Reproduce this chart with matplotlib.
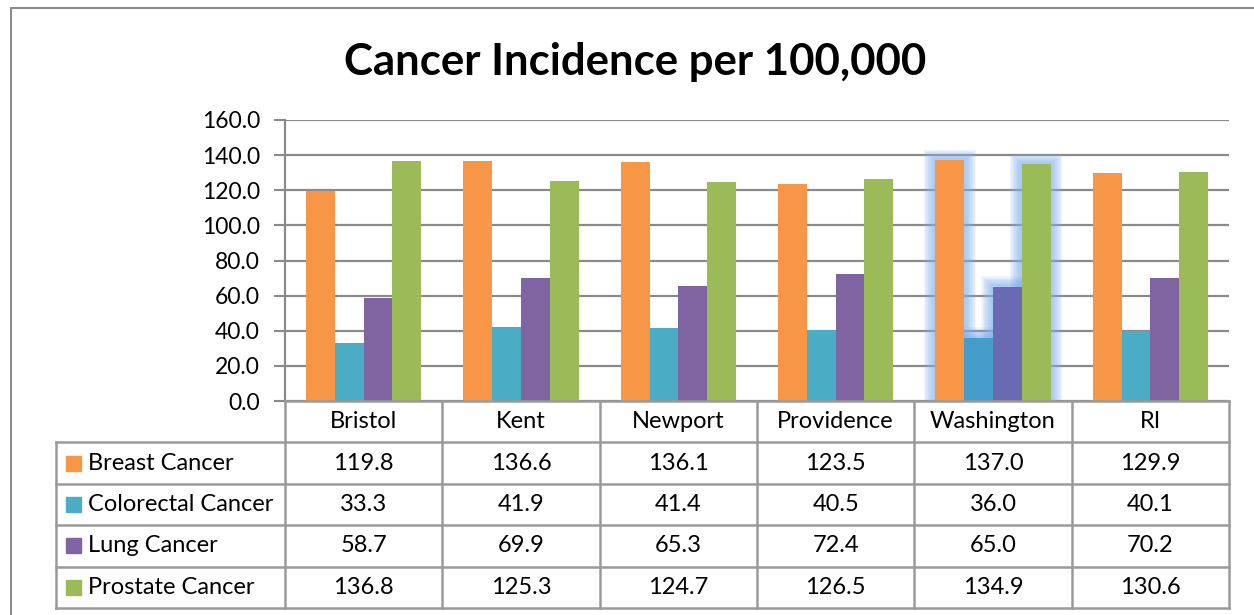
import matplotlib.pyplot as plt
from matplotlib.patches import Rectangle
import numpy as np

# --- data ---
counties = ['Bristol', 'Kent', 'Newport', 'Providence', 'Washington', 'RI']
series = ['Breast Cancer', 'Colorectal Cancer', 'Lung Cancer', 'Prostate Cancer']
breast = [119.8, 136.6, 136.1, 123.5, 137.0, 129.9]
colorectal = [33.3, 41.9, 41.4, 40.5, 36.0, 40.1]
lung = [58.7, 69.9, 65.3, 72.4, 65.0, 70.2]
prostate = [136.8, 125.3, 124.7, 126.5, 134.9, 130.6]
colors = ['#F79646', '#4BACC6', '#8064A2', '#9BBB59']
yticks = [0, 20, 40, 60, 80, 100, 120, 140, 160]

plt.rcParams['font.family'] = ['Lato', 'DejaVu Sans']

W, H = 1254, 615
fig = plt.figure(figsize=(W / 100, H / 100), dpi=100)


def box(x0, y0, x1, y1):
    # pixel box (top-left origin) -> figure fraction rect
    return [x0 / W, 1 - y1 / H, (x1 - x0) / W, (y1 - y0) / H]


# outer chart border (runs off the right/bottom edge)
fig.patches.append(Rectangle((11 / W, -0.1), 1.2, 1 - 8 / H + 0.1, transform=fig.transFigure,
                             fill=False, edgecolor='#8c8c8c', linewidth=1.5))

fig.text(635 / W, 1 - 62 / H, 'Cancer Incidence per 100,000', ha='center', va='center',
         fontsize=31.5, fontweight='bold')

# --- bar chart ---
ax = fig.add_axes(box(285, 120, 1229, 401))
data = [breast, colorectal, lung, prostate]
n = len(counties)
x = np.arange(n) + 0.5
bw = 0.183
for i, (vals, c) in enumerate(zip(data, colors)):
    ax.bar(x + (i - 1.5) * bw, vals, width=bw, color=c, zorder=3)

# soft blue highlight around Washington bars (selection glow)
wi = counties.index('Washington')
for i, vals in enumerate(data):
    bx = x[wi] + (i - 1.5) * bw - bw / 2
    for k in range(8):
        pad = 0.075 - k * 0.009
        ax.add_patch(Rectangle((bx - pad, 0), bw + 2 * pad, vals[wi] + pad * 80,
                               color='#7fb0f0', alpha=0.12, linewidth=0, zorder=2))
for i in (1, 2):
    bx = x[wi] + (i - 1.5) * bw - bw / 2
    ax.add_patch(Rectangle((bx, 0), bw, data[i][wi], color='#3a78d8', alpha=0.3,
                           linewidth=0, zorder=4))

ax.set_xlim(0, n)
ax.set_ylim(0, 160)
ax.set_yticks(yticks)
ax.set_yticklabels([f'{t:.1f}' for t in yticks], fontsize=16.5)
ax.yaxis.grid(True, color='#8a8a8a', linewidth=1.6, zorder=0)
ax.set_xticks([])
ax.tick_params(axis='y', length=8, width=1.5, color='#8a8a8a', pad=10)
for s in ['top', 'right', 'bottom']:
    ax.spines[s].set_visible(False)
ax.spines['left'].set_color('#8a8a8a')
ax.spines['left'].set_linewidth(1.6)
ax.set_axisbelow(True)

# --- data table below ---
lab_w = (285 - 56) / ((1229 - 285) / n)
tx = fig.add_axes(box(56, 401, 1229, 608))
tx.set_xlim(-lab_w, n)
tx.set_ylim(5, 0)
tx.axis('off')
lc, lw = '#9a9a9a', 1.8
# horizontal lines
tx.plot([0, n], [0, 0], color=lc, lw=lw, clip_on=False)
for r in range(1, 6):
    tx.plot([-lab_w, n], [r, r], color=lc, lw=lw, clip_on=False)
# vertical lines
for c in range(n + 1):
    tx.plot([c, c], [0, 5], color=lc, lw=lw, clip_on=False)
tx.plot([-lab_w, -lab_w], [1, 5], color=lc, lw=lw, clip_on=False)

for j, name in enumerate(counties):
    tx.text(j + 0.5, 0.5, name, ha='center', va='center', fontsize=17)
sq = 15 / ((1229 - 285) / n)
for i, (name, vals, c) in enumerate(zip(series, data, colors)):
    yy = i + 1.5
    tx.add_patch(Rectangle((-lab_w + 10 / 157.3, yy - 0.18), sq, 0.36, color=c, clip_on=False))
    tx.text(-lab_w + 32 / 157.3, yy, name, ha='left', va='center', fontsize=17)
    for j, v in enumerate(vals):
        tx.text(j + 0.5, yy, f'{v:.1f}', ha='center', va='center', fontsize=17)

fig.savefig('out.png', dpi=100)
